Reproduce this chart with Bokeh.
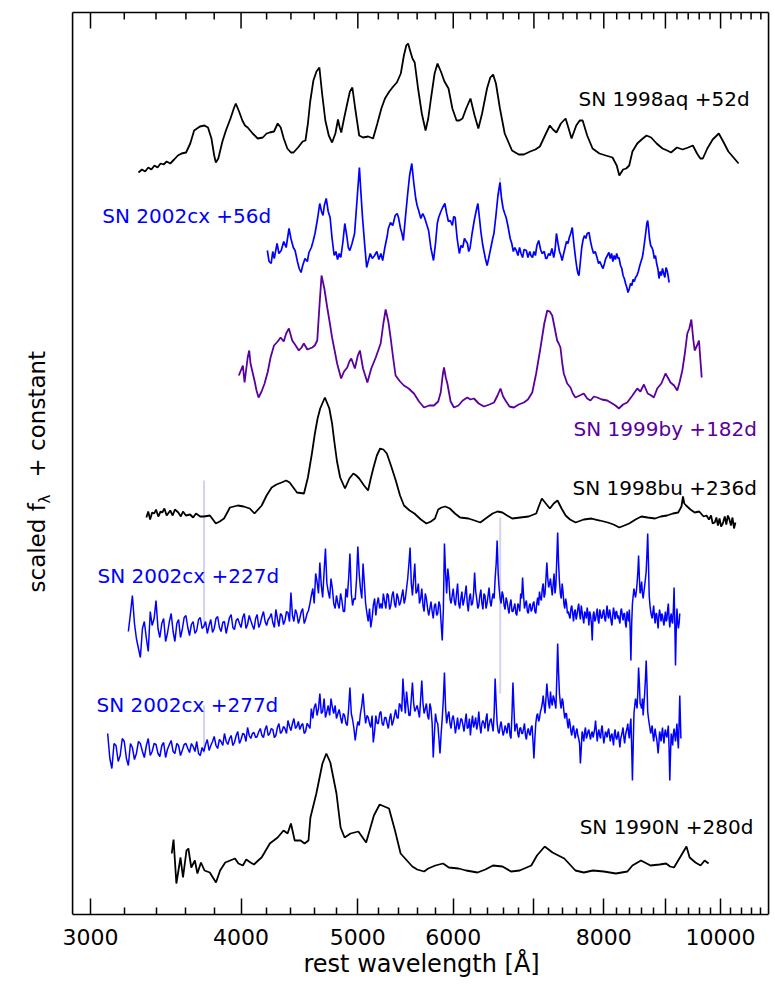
import math
from bokeh.plotting import figure
from bokeh.models import Range1d, FixedTicker, Label, Title, CustomJSTickFormatter
from bokeh.core.properties import value
from bokeh.embed import file_html
from bokeh.resources import INLINE

# ---------------- data (wavelength [A], scaled flux) ----------------
sn1998aq_52d = [
    (3288, .41), (3310, .44), (3330, .42), (3350, .46), (3370, .44), (3390, .48), (3410, .46), (3430, .50),
    (3450, .49), (3470, .52), (3494, .50), (3520, .54), (3545, .58), (3570, .60), (3601, .61), (3630, .70),
    (3657, .83), (3698, .87), (3730, .88), (3755, .86), (3780, .75), (3800, .58), (3812, .51), (3830, .55),
    (3860, .72), (3886, .83), (3920, .95), (3945, 1.05), (3960, 1.10), (3985, 1.02), (4010, .93), (4030, .88),
    (4051, .86), (4090, .80), (4129, .75), (4170, .76), (4200, .80), (4224, .81), (4260, .82), (4290, .90),
    (4315, .86), (4340, .75), (4370, .65), (4400, .61), (4422, .61), (4460, .66), (4500, .72), (4524, .73),
    (4545, .90), (4565, 1.12), (4593, 1.33), (4620, 1.42), (4646, 1.46), (4670, 1.20), (4699, .93), (4730, .78),
    (4760, .71), (4790, .80), (4814, .94), (4830, .86), (4844, .81), (4870, .95), (4900, 1.10), (4925, 1.22),
    (4948, 1.26), (4975, 1.05), (5013, .78), (5050, .76), (5100, .77), (5148, .75), (5190, .90), (5230, 1.05),
    (5266, 1.15), (5310, 1.22), (5350, 1.27), (5387, 1.31), (5428, 1.40), (5460, 1.58), (5485, 1.68), (5504, 1.70),
    (5525, 1.63), (5550, 1.55), (5574, 1.51), (5610, 1.25), (5650, 1.00), (5691, .83), (5720, .95), (5750, 1.15),
    (5790, 1.40), (5822, 1.50), (5860, 1.42), (5900, 1.32), (5946, 1.25), (5990, 1.05), (6038, .93), (6070, .93),
    (6107, .95), (6150, 1.05), (6201, 1.15), (6250, .98), (6295, .85), (6340, 1.00), (6400, 1.25), (6440, 1.36),
    (6475, 1.39), (6510, 1.30), (6560, 1.05), (6620, .80), (6713, .63), (6800, .59), (6867, .59), (6950, .62),
    (7020, .64), (7080, .67), (7150, .78), (7216, .88), (7260, .84), (7308, .81), (7370, .90), (7437, .95),
    (7480, .85), (7522, .75), (7590, .88), (7640, .93), (7683, .93), (7750, .78), (7830, .65), (7933, .60),
    (8030, .58), (8134, .56), (8200, .48), (8241, .38), (8300, .44), (8350, .45), (8398, .48), (8450, .62),
    (8528, .70), (8600, .74), (8680, .78), (8757, .76), (8850, .70), (8950, .65), (9030, .63), (9097, .61),
    (9200, .66), (9300, .64), (9400, .66), (9484, .68), (9560, .60), (9620, .55), (9667, .55), (9750, .65),
    (9850, .74), (9966, .80), (10050, .72), (10150, .62), (10250, .56), (10350, .50),
]

sn2002cx_56d = [
    (4206, .63), (4220, .52), (4237, .50), (4250, .62), (4262, .55), (4285, .70), (4300, .60), (4319, .63),
    (4340, .72), (4360, .66), (4384, .85), (4400, .75), (4420, .66), (4435, .63), (4455, .52), (4470, .45),
    (4486, .41), (4500, .48), (4520, .55), (4540, .52), (4554, .61), (4575, .66), (4590, .72), (4607, .80),
    (4630, .95), (4649, 1.10), (4665, 1.02), (4678, .98), (4690, 1.08), (4707, 1.15), (4725, 1.02), (4742, .96),
    (4760, .75), (4779, .58), (4795, .62), (4810, .54), (4825, .60), (4840, .56), (4860, .72), (4877, .90),
    (4895, .78), (4910, .66), (4924, .63), (4945, .70), (4969, .80), (4990, 1.10), (5015, 1.46), (5030, 1.20),
    (5045, .96), (5065, .70), (5085, .46), (5100, .52), (5120, .60), (5140, .55), (5163, .58), (5185, .62),
    (5205, .54), (5225, .60), (5243, .53), (5265, .66), (5290, .78), (5300, .85), (5322, .91), (5345, .88),
    (5370, .98), (5390, 1.00), (5404, .96), (5425, .85), (5440, .80), (5454, .73), (5475, .95), (5500, 1.20),
    (5520, 1.38), (5543, 1.50), (5565, 1.30), (5585, 1.15), (5600, 1.08), (5616, 1.03), (5640, .95), (5660, 1.00),
    (5680, .96), (5700, .90), (5724, .83), (5750, .65), (5778, .53), (5800, .70), (5820, .90), (5835, .96),
    (5860, 1.02), (5880, 1.06), (5905, 1.10), (5925, 1.00), (5945, .92), (5966, .93), (5990, .88), (6005, .97),
    (6022, .96), (6045, .75), (6070, .60), (6090, .68), (6110, .66), (6130, .75), (6143, .73), (6165, .70),
    (6180, .62), (6195, .65), (6220, .80), (6250, .95), (6275, 1.05), (6289, 1.10), (6305, .98), (6325, .82),
    (6345, .70), (6361, .63), (6380, .55), (6401, .48), (6420, .55), (6445, .65), (6470, .75), (6485, .80),
    (6510, .98), (6535, 1.18), (6561, 1.31), (6580, 1.15), (6600, 1.05), (6620, 1.00), (6638, .96), (6660, .88),
    (6690, .75), (6710, .70), (6730, .62), (6750, .66), (6768, .63), (6790, .58), (6810, .66), (6830, .60),
    (6850, .56), (6870, .64), (6900, .63), (6920, .56), (6945, .62), (6960, .58), (6981, .56), (7000, .62),
    (7020, .58), (7040, .68), (7064, .73), (7090, .64), (7110, .60), (7140, .62), (7160, .55), (7175, .55),
    (7200, .60), (7220, .58), (7245, .65), (7270, .56), (7288, .63), (7308, .80), (7330, .70), (7350, .62),
    (7370, .58), (7388, .53), (7410, .60), (7430, .66), (7450, .72), (7470, .70), (7490, .76), (7510, .80),
    (7532, .86), (7555, .70), (7580, .55), (7600, .45), (7615, .40), (7630, .38), (7650, .52), (7670, .66),
    (7690, .74), (7710, .78), (7730, .75), (7750, .80), (7777, .81), (7800, .72), (7820, .66), (7845, .60),
    (7870, .62), (7897, .56), (7920, .50), (7940, .52), (7965, .48), (7988, .45), (8010, .50), (8030, .55),
    (8055, .58), (8079, .61), (8100, .55), (8120, .60), (8140, .52), (8160, .58), (8180, .54), (8200, .60),
    (8220, .55), (8235, .56), (8260, .48), (8280, .45), (8300, .38), (8320, .35), (8340, .30), (8360, .26),
    (8379, .21), (8400, .25), (8420, .30), (8440, .28), (8460, .34), (8480, .32), (8500, .36), (8523, .38),
    (8545, .42), (8570, .48), (8590, .52), (8610, .56), (8623, .60), (8645, .70), (8670, .82), (8685, .90),
    (8700, .93), (8715, .85), (8730, .75), (8750, .68), (8770, .66), (8789, .63), (8810, .55), (8830, .58),
    (8850, .50), (8870, .45), (8891, .35), (8910, .42), (8930, .38), (8950, .45), (8970, .40), (8990, .36),
    (9010, .46), (9029, .43), (9045, .38), (9064, .31),
]

sn1999by_182d = [
    (3983, .48), (4014, .58), (4027, .41), (4051, .66), (4063, .73), (4073, .60), (4104, .43), (4120, .33),
    (4136, .26), (4160, .32), (4184, .40), (4210, .52), (4232, .66), (4260, .78), (4290, .82), (4314, .86),
    (4340, .82), (4360, .90), (4383, .95), (4411, .83), (4440, .78), (4467, .73), (4490, .76), (4510, .80),
    (4540, .74), (4583, .76), (4605, .78), (4627, .83), (4645, 1.15), (4665, 1.48), (4690, 1.35), (4716, 1.16),
    (4740, 1.00), (4760, .86), (4785, .72), (4806, .60), (4843, .45), (4870, .52), (4900, .56), (4920, .62),
    (4938, .65), (4972, .55), (5000, .68), (5020, .73), (5050, .55), (5092, .41), (5130, .55), (5174, .66),
    (5223, .80), (5250, 1.00), (5273, 1.14), (5300, 1.02), (5323, .86), (5350, .65), (5374, .48), (5420, .42),
    (5460, .38), (5510, .35), (5566, .30), (5620, .22), (5674, .16), (5730, .18), (5783, .18), (5830, .22),
    (5858, .31), (5880, .48), (5895, .56), (5915, .46), (5933, .40), (5970, .22), (6008, .16), (6060, .18),
    (6110, .23), (6164, .26), (6200, .24), (6242, .25), (6300, .20), (6363, .17), (6430, .19), (6486, .21),
    (6530, .28), (6567, .35), (6600, .27), (6630, .23), (6680, .17), (6737, .16), (6800, .19), (6867, .21),
    (6920, .24), (6978, .31), (7030, .50), (7089, .76), (7140, 1.00), (7181, 1.13), (7215, 1.12), (7249, 1.08),
    (7285, .95), (7318, .83), (7340, .80), (7364, .76), (7390, .60), (7411, .50), (7460, .40), (7506, .36),
    (7540, .30), (7578, .26), (7640, .28), (7700, .30), (7750, .25), (7799, .23), (7850, .27), (7900, .26),
    (7970, .24), (8053, .23), (8130, .20), (8180, .18), (8234, .15), (8300, .19), (8366, .21), (8450, .28),
    (8528, .35), (8580, .32), (8637, .39), (8700, .30), (8760, .28), (8803, .26), (8860, .35), (8930, .40),
    (9001, .50), (9050, .45), (9088, .41), (9150, .38), (9206, .33), (9250, .42), (9295, .53), (9340, .70),
    (9384, .90), (9420, .95), (9457, 1.04), (9490, .85), (9517, .73), (9560, .78), (9596, .83), (9620, .65),
    (9646, .46),
]

sn1998bu_236d = [
    (3338, .16), (3350, .22), (3362, .14), (3375, .21), (3389, .20), (3400, .24), (3415, .17), (3430, .22),
    (3441, .21), (3455, .25), (3470, .18), (3494, .23), (3510, .18), (3525, .24), (3548, .21), (3565, .17),
    (3580, .22), (3600, .18), (3629, .19), (3650, .16), (3670, .20), (3700, .17), (3727, .17), (3769, .18),
    (3812, .10), (3840, .12), (3872, .15), (3916, .26), (3975, .28), (4020, .27), (4067, .25), (4104, .20),
    (4161, .28), (4200, .38), (4241, .46), (4280, .49), (4322, .51), (4360, .53), (4389, .51), (4420, .46),
    (4451, .41), (4511, .40), (4545, .56), (4580, .80), (4606, 1.00), (4630, 1.15), (4653, 1.25), (4695, 1.36),
    (4735, 1.25), (4760, 1.10), (4779, .93), (4805, .72), (4834, .56), (4879, .45), (4920, .55), (4957, .60),
    (4985, .58), (5013, .55), (5060, .48), (5099, .43), (5125, .55), (5152, .66), (5185, .78), (5218, .85),
    (5250, .84), (5285, .80), (5330, .67), (5376, .53), (5420, .38), (5461, .28), (5520, .23), (5571, .20),
    (5640, .14), (5700, .10), (5750, .12), (5794, .15), (5830, .24), (5867, .26), (5910, .27), (5961, .25),
    (6020, .20), (6079, .16), (6177, .15), (6250, .13), (6318, .11), (6400, .16), (6469, .20), (6530, .22),
    (6591, .21), (6650, .18), (6716, .15), (6820, .16), (6930, .17), (7031, .20), (7070, .28), (7107, .35),
    (7150, .31), (7217, .25), (7270, .30), (7323, .33), (7380, .25), (7437, .18), (7500, .14), (7580, .11),
    (7700, .14), (7815, .15), (7940, .13), (8061, .11), (8150, .09), (8241, .06), (8320, .08), (8398, .10),
    (8500, .14), (8594, .17), (8700, .16), (8823, .15), (8920, .17), (9027, .18), (9130, .20), (9222, .21),
    (9280, .27), (9307, .37), (9330, .30), (9363, .28), (9440, .24), (9517, .21), (9600, .22), (9680, .17),
    (9735, .18), (9780, .14), (9820, .18), (9850, .10), (9889, .11), (9920, .16), (9950, .08), (9980, .15),
    (10010, .07), (10043, .10), (10080, .17), (10110, .09), (10140, .18), (10165, .15), (10200, .08),
    (10230, .16), (10260, .05), (10288, .11),
]

sn2002cx_227d = [
    (3225, .02), (3250, .38), (3275, -.05), (3300, -.24), (3325, .12), (3350, -.18), (3375, .08), (3400, .33), (3425, -.04), (3450, .15),
    (3475, .00), (3500, .20), (3525, -.08), (3550, .14), (3575, .04), (3600, .18), (3625, -.02), (3650, .12), (3675, .03), (3700, .16),
    (3725, .07), (3750, .00), (3775, .14), (3800, .05), (3825, .17), (3850, .02), (3875, .12), (3900, .08), (3925, .19), (3950, .04),
    (3975, .15), (4000, .06), (4025, .20), (4050, .09), (4075, .13), (4100, .04), (4125, .19), (4150, .10), (4175, .22), (4200, .08),
    (4225, .16), (4250, .11), (4275, .24), (4300, .07), (4325, .18), (4350, .13), (4375, .21), (4400, .41), (4425, .12), (4450, .20),
    (4475, .15), (4500, .25), (4525, .14), (4550, .23), (4575, .38), (4600, .30), (4625, .52), (4650, .71), (4675, .36), (4700, .85),
    (4725, .42), (4750, .55), (4775, .30), (4800, .38), (4825, .25), (4850, .33), (4875, .22), (4900, .36), (4925, .80), (4950, .28),
    (4975, .34), (5000, .87), (5025, .45), (5050, .70), (5075, .30), (5100, .12), (5125, .06), (5150, .28), (5175, .18), (5200, .36),
    (5225, .30), (5250, .40), (5275, .25), (5300, .38), (5325, .28), (5350, .42), (5375, .26), (5400, .36), (5425, .31), (5450, .44),
    (5475, .35), (5500, .55), (5525, .86), (5550, .38), (5575, .70), (5600, .42), (5625, .30), (5650, .45), (5675, .22), (5700, .35),
    (5725, .18), (5750, .32), (5775, .15), (5800, .30), (5825, .20), (5850, .28), (5875, -.07), (5900, .90), (5925, .40), (5950, .55),
    (5975, .30), (6000, .45), (6025, .28), (6050, .50), (6075, .25), (6100, .42), (6125, .33), (6150, .48), (6175, .22), (6200, .40),
    (6225, .30), (6250, .61), (6275, .35), (6300, .28), (6325, .44), (6350, .24), (6375, .38), (6400, .30), (6425, .46), (6450, .27),
    (6475, .40), (6500, .55), (6525, .93), (6550, .45), (6575, .30), (6600, .38), (6625, .24), (6650, .32), (6675, .20), (6700, .34),
    (6725, .22), (6750, .30), (6775, .18), (6800, .28), (6825, .40), (6850, .56), (6875, .25), (6900, .33), (6925, .20), (6950, .30),
    (6975, .24), (7000, .32), (7025, .20), (7050, .36), (7075, .42), (7100, .33), (7125, .50), (7150, .40), (7175, .71), (7200, .46),
    (7225, .55), (7250, .38), (7275, .60), (7300, .48), (7325, 1.01), (7350, .52), (7375, .35), (7400, .42), (7425, .25), (7450, .30),
    (7475, .22), (7500, .15), (7525, .28), (7550, .12), (7575, .24), (7600, .18), (7625, .30), (7650, .14), (7675, .22), (7700, .10),
    (7725, .20), (7750, .26), (7775, .08), (7800, .18), (7825, -.07), (7850, .22), (7875, .14), (7900, .25), (7925, .10), (7950, .20),
    (7975, .16), (8000, .24), (8025, .12), (8050, .28), (8075, .15), (8100, .20), (8125, .08), (8150, .26), (8175, .14), (8200, .22),
    (8225, .18), (8250, .10), (8275, .25), (8300, .13), (8325, .20), (8350, .06), (8375, .18), (8400, .24), (8425, -.27), (8450, .30),
    (8475, .45), (8500, .36), (8525, .50), (8550, .78), (8575, .40), (8600, .52), (8625, .35), (8650, .48), (8675, .62), (8700, 1.00),
    (8725, .38), (8750, .22), (8775, .15), (8800, .28), (8825, .10), (8850, .20), (8875, .05), (8900, .24), (8925, .12), (8950, .18),
    (8975, .08), (9000, .22), (9025, .14), (9050, .30), (9075, .06), (9100, .20), (9125, .10), (9150, .46), (9175, -.32), (9200, .25),
    (9225, .05), (9250, .20),
    # intermediate samples
    (3238, .20), (3263, .10), (3288, -.15), (3313, .05), (3338, -.05), (3363, .22), (3388, .15), (3413, .05), (3438, .10), (3463, -.08),
    (3488, .12), (3513, .02), (3538, .10), (3563, -.04), (3588, .16), (3613, .06), (3638, .09), (3663, .00), (3688, .14), (3713, .05),
    (3738, .12), (3763, .08), (3788, .01), (3813, .15), (3838, .06), (3863, .11), (3888, .00), (3913, .16), (3938, .06), (3963, .13),
    (3988, .10), (4013, .16), (4038, .05), (4063, .18), (4088, .08), (4113, .15), (4138, .06), (4163, .17), (4188, .12), (4213, .14),
    (4238, .20), (4263, .06), (4288, .15), (4313, .20), (4338, .09), (4363, .22), (4388, .12), (4413, .18), (4438, .24), (4463, .10),
    (4488, .22), (4513, .10), (4538, .20), (4563, .30), (4588, .45), (4613, .60), (4638, .40), (4663, .48), (4688, .62), (4713, .50),
    (4738, .35), (4763, .45), (4788, .25), (4813, .30), (4838, .40), (4863, .22), (4888, .45), (4913, .55), (4938, .40), (4963, .35),
    (4988, .55), (5013, .60), (5038, .35), (5063, .50), (5088, .20), (5113, .25), (5138, .15), (5163, .35), (5188, .30), (5213, .25),
    (5238, .25), (5263, .32), (5288, .40), (5313, .24), (5338, .38), (5363, .30), (5388, .40), (5413, .28), (5438, .38), (5463, .30),
    (5488, .45), (5513, .70), (5538, .50), (5563, .55), (5588, .40), (5613, .50), (5638, .35), (5663, .28), (5688, .40), (5713, .25),
    (5738, .25), (5763, .22), (5788, .28), (5813, .18), (5838, .32), (5863, .10), (5888, .25), (5913, .60), (5938, .65), (5963, .35),
    (5988, .38), (6013, .32), (6038, .40), (6063, .30), (6088, .35), (6113, .28), (6138, .40), (6163, .30), (6188, .36), (6213, .28),
    (6238, .40), (6263, .42), (6288, .25), (6313, .38), (6338, .30), (6363, .40), (6388, .25), (6413, .38), (6438, .32), (6463, .35),
    (6488, .35), (6513, .70), (6538, .60), (6563, .35), (6588, .42), (6613, .28), (6638, .36), (6663, .25), (6688, .30), (6713, .22),
    (6738, .26), (6763, .20), (6788, .30), (6813, .22), (6838, .35), (6863, .38), (6888, .30), (6913, .22), (6938, .28), (6963, .22),
    (6988, .30), (7013, .22), (7038, .30), (7063, .28), (7088, .35), (7113, .45), (7138, .36), (7163, .55), (7188, .55), (7213, .50),
    (7238, .45), (7263, .50), (7288, .40), (7313, .75), (7338, .70), (7363, .40), (7388, .50), (7413, .30), (7438, .35), (7463, .20),
    (7488, .18), (7513, .25), (7538, .20), (7563, .22), (7588, .14), (7613, .25), (7638, .20), (7663, .28), (7688, .15), (7713, .22),
    (7738, .15), (7763, .20), (7788, .22), (7813, .10), (7838, .18), (7863, .12), (7888, .20), (7913, .14), (7938, .24), (7963, .15),
    (7988, .22), (8013, .15), (8038, .20), (8063, .18), (8088, .24), (8113, .12), (8138, .18), (8163, .20), (8188, .22), (8213, .15),
    (8238, .14), (8263, .22), (8288, .18), (8313, .20), (8338, .10), (8363, .22), (8388, .12), (8413, .05), (8438, .10), (8463, .38),
    (8488, .40), (8513, .42), (8538, .62), (8563, .55), (8588, .45), (8613, .40), (8638, .42), (8663, .55), (8688, .80), (8713, .70),
    (8738, .28), (8763, .18), (8788, .22), (8813, .16), (8838, .20), (8863, .12), (8888, .18), (8913, .18), (8938, .20), (8963, .12),
    (8988, .16), (9013, .12), (9038, .24), (9063, .15), (9088, .16), (9113, .12), (9138, .25), (9163, .10), (9188, .05), (9213, .12),
    (9238, .10),
]

sn2002cx_277d = [
    (3100, .20), (3125, -.15), (3150, .08), (3175, -.02), (3200, .12), (3225, -.12), (3250, .06), (3275, .00), (3300, .10), (3325, -.04),
    (3350, .15), (3375, .02), (3400, .09), (3425, -.03), (3450, .11), (3475, .04), (3500, .13), (3525, .00), (3550, .08), (3575, .03),
    (3600, .10), (3625, .01), (3650, .07), (3675, .12), (3700, -.02), (3725, .02), (3750, .14), (3775, .08), (3800, .17), (3825, .05),
    (3850, .12), (3875, .20), (3900, .09), (3925, .18), (3950, .11), (3975, .22), (4000, .14), (4025, .19), (4050, .26), (4075, .15),
    (4100, .21), (4125, .17), (4150, .25), (4175, .16), (4200, .28), (4225, .20), (4250, .24), (4275, .18), (4300, .30), (4325, .22),
    (4350, .25), (4375, .33), (4400, .23), (4425, .35), (4450, .27), (4475, .24), (4500, .30), (4525, .22), (4550, .28), (4575, .45),
    (4600, .46), (4625, .38), (4650, .60), (4675, .42), (4700, .36), (4725, .48), (4750, .55), (4775, .40), (4800, .35), (4825, .44),
    (4850, .30), (4875, .38), (4900, .28), (4925, .66), (4950, .34), (4975, .13), (5000, .32), (5025, .40), (5050, .60), (5075, .30),
    (5100, .36), (5125, .26), (5150, .11), (5175, .38), (5200, .30), (5225, .42), (5250, .28), (5275, .36), (5300, .25), (5325, .40),
    (5350, .32), (5375, .44), (5400, .35), (5425, .48), (5450, .75), (5475, .40), (5500, .50), (5525, .38), (5550, .71), (5575, .42),
    (5600, .48), (5625, .36), (5650, .73), (5675, .40), (5700, .50), (5725, .34), (5750, .45), (5775, -.04), (5800, .40), (5825, .30),
    (5850, .00), (5875, .35), (5900, .81), (5925, .30), (5950, .42), (5975, .25), (6000, .38), (6025, .20), (6050, .36), (6075, .28),
    (6100, .34), (6125, .22), (6150, .40), (6175, .26), (6200, .18), (6225, .38), (6250, .30), (6275, .24), (6300, .42), (6325, .20),
    (6350, .33), (6375, .25), (6400, .40), (6425, .28), (6450, .35), (6475, .22), (6500, .75), (6525, .30), (6550, .20), (6575, .32),
    (6600, .18), (6625, .28), (6650, .20), (6675, .30), (6700, .15), (6725, .71), (6750, .22), (6775, .30), (6800, .16), (6825, .26),
    (6850, .20), (6875, .30), (6900, .14), (6925, .25), (6950, .18), (6975, .28), (7000, -.05), (7025, .30), (7050, .40), (7075, .35),
    (7100, .45), (7125, .58), (7150, .40), (7175, .70), (7200, .50), (7225, .62), (7250, .48), (7275, .55), (7300, .45), (7325, 1.10),
    (7350, .60), (7375, .45), (7400, .52), (7425, .35), (7450, .40), (7475, .25), (7500, .30), (7525, .18), (7550, .28), (7575, .15),
    (7600, .25), (7625, .15), (7650, -.10), (7675, .22), (7700, .12), (7725, .26), (7750, .18), (7775, .24), (7800, .14), (7825, .22),
    (7850, .20), (7875, .33), (7900, .12), (7925, .24), (7950, .15), (7975, .28), (8000, .10), (8025, .22), (8050, .16), (8075, .25),
    (8100, .12), (8125, .20), (8150, .08), (8175, .24), (8200, .14), (8225, .22), (8250, .06), (8275, .18), (8300, .26), (8325, .10),
    (8350, .22), (8375, .30), (8400, .15), (8425, .35), (8450, -.27), (8475, .40), (8500, .55), (8525, .45), (8550, .86), (8575, .50),
    (8600, .45), (8625, .38), (8650, .60), (8675, .93), (8700, .42), (8725, .30), (8750, .20), (8775, .28), (8800, .12), (8825, .25),
    (8850, .15), (8875, .00), (8900, .22), (8925, .12), (8950, .26), (8975, .10), (9000, .24), (9025, .16), (9050, .28), (9075, -.27),
    (9100, .20), (9125, .08), (9150, .25), (9175, .12), (9200, .30), (9225, .05), (9250, .58), (9270, .15),
    # intermediate samples
    (3113, -.05), (3138, .10), (3163, -.08), (3188, .15), (3213, -.05), (3238, .10), (3263, -.06), (3288, .12), (3313, .02), (3338, .08),
    (3363, -.02), (3388, .10), (3413, .00), (3438, .08), (3463, -.04), (3488, .09), (3513, .02), (3538, .10), (3563, -.02), (3588, .09),
    (3613, .05), (3638, .10), (3663, .02), (3688, .00), (3713, .06), (3738, .09), (3763, .03), (3788, .12), (3813, .08), (3838, .14),
    (3863, .08), (3888, .12), (3913, .15), (3938, .08), (3963, .18), (3988, .10), (4013, .20), (4038, .12), (4063, .18), (4088, .20),
    (4113, .16), (4138, .22), (4163, .18), (4188, .24), (4213, .18), (4238, .25), (4263, .16), (4288, .26), (4313, .20), (4338, .27),
    (4363, .20), (4388, .27), (4413, .30), (4438, .25), (4463, .32), (4488, .28), (4513, .20), (4538, .30), (4563, .25), (4588, .35),
    (4613, .50), (4638, .45), (4663, .40), (4688, .55), (4713, .42), (4738, .38), (4763, .46), (4788, .48), (4813, .40), (4838, .36),
    (4863, .40), (4888, .30), (4913, .45), (4938, .40), (4963, .25), (4988, .24), (5013, .28), (5038, .48), (5063, .42), (5088, .38),
    (5113, .30), (5138, .38), (5163, .22), (5188, .30), (5213, .40), (5238, .30), (5263, .36), (5288, .30), (5313, .35), (5338, .28),
    (5363, .38), (5388, .36), (5413, .50), (5438, .42), (5463, .55), (5488, .62), (5513, .38), (5538, .55), (5563, .50), (5588, .45),
    (5613, .42), (5638, .55), (5663, .50), (5688, .45), (5713, .38), (5738, .50), (5763, .30), (5788, .20), (5813, .32), (5838, .15),
    (5863, .20), (5888, .55), (5913, .45), (5938, .38), (5963, .30), (5988, .35), (6013, .30), (6038, .28), (6063, .24), (6088, .35),
    (6113, .28), (6138, .32), (6163, .25), (6188, .35), (6213, .30), (6238, .26), (6263, .36), (6288, .30), (6313, .28), (6338, .30),
    (6363, .30), (6388, .35), (6413, .22), (6438, .33), (6463, .28), (6488, .40), (6513, .50), (6538, .22), (6563, .28), (6588, .24),
    (6613, .22), (6638, .24), (6663, .30), (6688, .18), (6713, .40), (6738, .45), (6763, .28), (6788, .20), (6813, .25), (6838, .20),
    (6863, .25), (6888, .18), (6913, .22), (6938, .20), (6963, .26), (6988, .12), (7013, .15), (7038, .38), (7063, .32), (7088, .42),
    (7113, .50), (7138, .48), (7163, .55), (7188, .58), (7213, .45), (7238, .52), (7263, .58), (7288, .50), (7313, .75), (7338, .80),
    (7363, .50), (7388, .55), (7413, .42), (7438, .40), (7463, .30), (7488, .35), (7513, .22), (7538, .25), (7563, .20), (7588, .22),
    (7613, .18), (7638, .10), (7663, .05), (7688, .18), (7713, .22), (7738, .15), (7763, .22), (7788, .18), (7813, .20), (7838, .16),
    (7863, .25), (7888, .22), (7913, .20), (7938, .18), (7963, .24), (7988, .18), (8013, .16), (8038, .20), (8063, .22), (8088, .18),
    (8113, .18), (8138, .14), (8163, .20), (8188, .16), (8213, .18), (8238, .14), (8263, .15), (8288, .22), (8313, .16), (8338, .18),
    (8363, .25), (8388, .20), (8413, .28), (8438, .05), (8463, .10), (8488, .48), (8513, .50), (8538, .62), (8563, .70), (8588, .48),
    (8613, .55), (8638, .50), (8663, .75), (8688, .70), (8713, .35), (8738, .25), (8763, .24), (8788, .18), (8813, .20), (8838, .18),
    (8863, .08), (8888, .10), (8913, .18), (8938, .20), (8963, .16), (8988, .20), (9013, .18), (9038, .22), (9063, .05), (9088, .00),
    (9113, .15), (9138, .20), (9163, .18), (9188, .22), (9213, .15), (9238, .30),
]

sn1990N_280d = [
    (3504, .30), (3516, .44), (3535, .00), (3563, .26), (3580, .06), (3604, .33), (3617, .35), (3637, .16),
    (3662, .23), (3680, .10), (3705, .21), (3730, .13), (3768, .11), (3813, .01), (3843, .13), (3881, .21),
    (3954, .25), (3980, .20), (4014, .18), (4040, .24), (4073, .21), (4100, .19), (4133, .23), (4160, .26),
    (4179, .30), (4226, .40), (4290, .46), (4338, .53), (4372, .50), (4400, .60), (4432, .43), (4482, .43),
    (4516, .40), (4550, .43), (4567, .66), (4619, .90), (4673, 1.20), (4708, 1.30), (4744, 1.21), (4800, .90),
    (4838, .56), (4875, .46), (4931, .50), (5005, .52), (5080, .41), (5156, .68), (5213, .79), (5307, .75),
    (5368, .53), (5426, .30), (5549, .17), (5600, .14), (5675, .12), (5720, .15), (5798, .18), (5884, .20),
    (5950, .16), (6061, .15), (6150, .13), (6285, .11), (6380, .14), (6473, .18), (6592, .17), (6700, .12),
    (6812, .13), (6965, .18), (7041, .28), (7146, .37), (7253, .31), (7418, .25), (7578, .13), (7700, .11),
    (7834, .13), (8000, .12), (8187, .10), (8369, .12), (8450, .18), (8589, .23), (8747, .18), (8900, .19),
    (9012, .20), (9080, .17), (9148, .16), (9285, .29), (9369, .37), (9426, .26), (9531, .21), (9625, .18),
    (9700, .23), (9774, .20),
]

# host-galaxy narrow lines ([O II] 3727, H-alpha 6563), drawn faint: (wavelength, flux_lo, flux_hi, spectrum index)
galaxy_lines = [
    (6563, 1.18, 1.36, 1),
    (3727, 0.08, 1.53, 4),
    (6563, 0.26, 1.16, 4),
    (3727, 0.00, 0.48, 5),
    (6563, 0.60, 1.53, 5),
]

spectra = [sn1998aq_52d, sn2002cx_56d, sn1999by_182d, sn1998bu_236d,
           sn2002cx_227d, sn2002cx_277d, sn1990N_280d]
offsets = [7.0, 6.0, 4.9, 3.8, 2.8, 1.6, 0.3]
names = ["SN 1998aq  +52d", "SN 2002cx  +56d", "SN 1999by  +182d", "SN 1998bu  +236d",
         "SN 2002cx  +227d", "SN 2002cx  +277d", "SN 1990N  +280d"]
colors = ["#000000", "#0000ff", "#5a009e", "#000000", "#0000ff", "#0000ff", "#000000"]
widths = [1.8, 1.7, 1.8, 1.8, 1.5, 1.5, 1.8]
label_pos = [(7624, 8.15), (3068, 6.98), (7551, 4.85), (7537, 4.26),
             (3040, 3.38), (3035, 2.09), (7639, 0.87)]

major_ticks = [3000, 4000, 5000, 6000, 7000, 8000, 9000, 10000]
minor_ticks = [3200, 3400, 3600, 3800, 4200, 4400, 4600, 4800, 5200, 5400, 5600, 5800,
               6200, 6400, 6600, 6800, 7200, 7400, 7600, 7800, 8200, 8400, 8600, 8800,
               9200, 9400, 9600, 9800, 10200, 10400, 10600, 10800]

FONT = "DejaVu Sans"
# plotted box (data limits) and the slightly larger drawing area around it
XL, XR = 2899, 10960
Y0, Y1 = -0.01, 9.01

p = figure(x_axis_type="log", y_axis_location=None, frame_width=771, frame_height=904,
           x_range=Range1d(2526, 11022), y_range=Range1d(Y0, Y1 + 0.02),
           output_backend="svg", toolbar_location=None,
           min_border_left=0, min_border_right=2, min_border_top=10, min_border_bottom=0)
p.grid.visible = False
p.outline_line_color = None
p.background_fill_color = "white"
p.border_fill_color = "white"

# box edges (left, right, top); the bottom edge is the x axis line
p.segment(x0=[XL, XR, XL], x1=[XL, XR, XR], y0=[Y0, Y0, Y1], y1=[Y1, Y1, Y1],
          line_color="black", line_width=1.6)

for wl, lo, hi, idx in galaxy_lines:
    p.segment(x0=[wl], x1=[wl], y0=[lo + offsets[idx]], y1=[hi + offsets[idx]],
              line_color="#d3d3f0", line_width=2)

for spec, off, col, lw in zip(spectra, offsets, colors, widths):
    spec = sorted(spec)
    wl = [s[0] for s in spec]
    fy = [s[1] + off for s in spec]
    p.line(wl, fy, line_color=col, line_width=lw)

for (lx, ly), name, col in zip(label_pos, names, colors):
    p.add_layout(Label(x=lx, y=ly, text=name, text_color=col, text_font=FONT,
                       text_font_size="20px", text_align="left", text_baseline="middle"))

# inward ticks along the top edge
MAJ_LEN, MIN_LEN = 0.16, 0.07
p.segment(x0=major_ticks, x1=major_ticks, y0=[Y1] * len(major_ticks),
          y1=[Y1 - MAJ_LEN] * len(major_ticks), line_color="black", line_width=1.5)
p.segment(x0=minor_ticks, x1=minor_ticks, y0=[Y1] * len(minor_ticks),
          y1=[Y1 - MIN_LEN] * len(minor_ticks), line_color="black", line_width=1.5)

ticker = FixedTicker(ticks=major_ticks, minor_ticks=minor_ticks)
fmt = CustomJSTickFormatter(code="return (tick == 7000 || tick == 9000) ? '' : tick.toFixed(0);")

xa = p.xaxis[0]
xa.ticker = ticker
xa.formatter = fmt
xa.bounds = (XL, XR)
xa.major_tick_in = 16
xa.major_tick_out = 0
xa.minor_tick_in = 7
xa.minor_tick_out = 0
xa.major_tick_line_width = 1.5
xa.minor_tick_line_width = 1.5
xa.axis_line_width = 1.6
xa.major_label_text_font = FONT
xa.major_label_text_font_size = "22px"
xa.major_label_text_color = "black"
xa.major_label_standoff = 14

# x-axis title, placed under the box (not under the wider drawing area)
p.add_layout(Title(text="rest wavelength [Å]", align="left", offset=303, standoff=0,
                   text_font=FONT, text_font_size="24px", text_font_style="normal",
                   text_color="black"), "below")

# y-axis title, left of the box (with subscript lambda)
ang = math.pi / 2
p.text(x=[2711], y=[3.21], text=["scaled f"], angle=ang, text_align="left",
       text_baseline="middle", text_font=value(FONT), text_font_size=value("23px"), text_color="black")
p.text(x=[2748], y=[4.10], text=["λ"], angle=ang, text_align="left",
       text_baseline="middle", text_font=value(FONT), text_font_size=value("15px"), text_color="black")
p.text(x=[2711], y=[4.36], text=["+  constant"], angle=ang, text_align="left",
       text_baseline="middle", text_font=value(FONT), text_font_size=value("23px"), text_color="black")

open("out.html", "w").write(file_html(p, INLINE))
